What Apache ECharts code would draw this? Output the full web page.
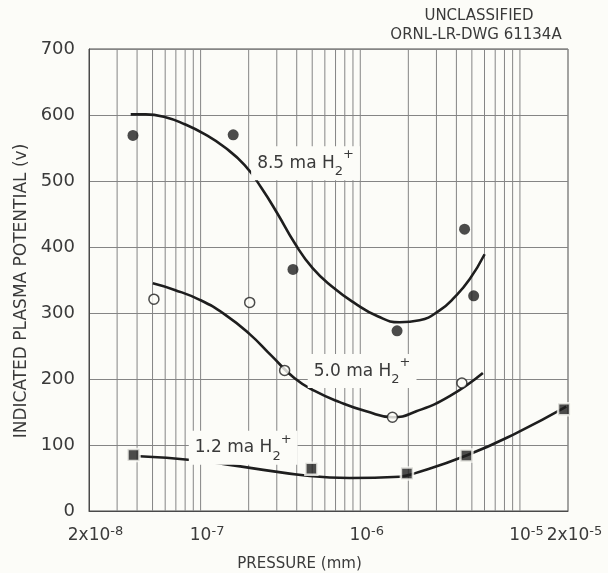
<!DOCTYPE html>
<html>
<head>
<meta charset="utf-8">
<script src="https://cdn.jsdelivr.net/npm/echarts@6/dist/echarts.min.js"></script>
<style>
  html, body { margin: 0; padding: 0; background: #fcfcf8; }
  #chart { width: 608px; height: 573px; }
</style>
</head>
<body>
<div id="chart"></div>
<script>
// Measured plasma potential (V) against pressure (mm) for three ion currents
const pressure85 = [3.77e-8, 1.6e-7, 3.79e-7, 1.7e-6, 4.5e-6, 5.13e-6];
const potential85 = [569, 570, 366, 273, 427, 326];
const pressure50 = [5.1e-8, 2.03e-7, 3.36e-7, 1.59e-6, 4.33e-6];
const potential50 = [321, 316, 213, 142, 194];
const pressure12 = [3.8e-8, 4.94e-7, 1.96e-6, 4.62e-6, 1.89e-5];
const potential12 = [85, 64, 57, 84, 154];

// Fitted curves through each set of measurements
const curve85P = [3.65e-8, 4.53e-8, 5.96e-8, 7.95e-8, 1.06e-7, 1.415e-7, 1.888e-7, 2.412e-7, 3.04e-7, 3.88e-7,
  5.03e-7, 6.74e-7, 9.22e-7, 1.285e-6, 1.764e-6, 2.353e-6, 3.14e-6, 3.9e-6, 4.84e-6, 6.01e-6];
const curve85V = [601, 601, 597, 586, 571, 551, 524, 489, 450, 406,
  368, 339, 315, 295, 286, 289, 304, 324, 351, 389];
const curve50P = [5.02e-8, 6.88e-8, 9.87e-8, 1.415e-7, 2.03e-7, 2.786e-7, 3.88e-7, 5.18e-7, 7.43e-7,
  1.09e-6, 1.6e-6, 2.245e-6, 3.63e-6, 5.86e-6];
const curve50V = [345, 335, 320, 298, 268, 235, 201, 182, 165,
  151, 142, 151, 174, 209];
const curve12P = [4.13e-8, 9.04e-8, 2.09e-7, 4.83e-7, 8.58e-7, 1.76e-6, 2.19e-6, 4.62e-6, 9.49e-6, 1.95e-5];
const curve12V = [83, 77, 65, 53, 50, 52, 57, 84, 118, 158];

// Log-paper rulings between the axis limits
const gridPressures = [3e-8, 4e-8, 5e-8, 6e-8, 7e-8, 8e-8, 9e-8,
  1e-7, 2e-7, 3e-7, 4e-7, 5e-7, 6e-7, 7e-7, 8e-7, 9e-7,
  1e-6, 2e-6, 3e-6, 4e-6, 5e-6, 6e-6, 7e-6, 8e-6, 9e-6, 1e-5];

const xMin = 2e-8, xMax = 2e-5;
const yMin = 0, yMax = 700, yStep = 100;

const BG = '#fcfcf8';
const INK = '#1e1e1e';
const TEXT = '#3a3a3a';
const RULE = '#858585';
const FONT = 'DejaVu Sans';

const pairs = (xs, ys) => xs.map((x, i) => [x, ys[i]]);

// "10^-7" / "2x10^-8" style pressure label; the leading pad keeps the
// mantissa part centred on its tick while the exponent hangs to the right
function pressureText(v) {
  const e = Math.floor(Math.log10(v) + 1e-9);
  const m = Math.round(v / Math.pow(10, e));
  const base = m === 1 ? '10' : m + 'x10';
  return '{p| }{b|' + base + '}{s|' + e + '}';
}
const pressureRich = {
  p: { width: 13, fontSize: 12 },
  b: { fontFamily: FONT, fontSize: 17, color: TEXT, lineHeight: 22, verticalAlign: 'middle' },
  s: { fontFamily: FONT, fontSize: 13, color: TEXT, lineHeight: 8, verticalAlign: 'top' }
};

function curveLabel(text, at) {
  return {
    coord: at,
    symbol: 'circle',
    symbolSize: 0,
    label: {
      show: true,
      position: 'inside',
      formatter: '{m|' + text + '}{sub|2}{sup|+}',
      backgroundColor: BG,
      padding: [2, 6],
      rich: {
        m: { fontFamily: FONT, fontSize: 17, color: TEXT, lineHeight: 30, verticalAlign: 'middle' },
        sub: { fontFamily: FONT, fontSize: 13, color: TEXT, lineHeight: 16, verticalAlign: 'bottom' },
        sup: { fontFamily: FONT, fontSize: 13, color: TEXT, lineHeight: 10, verticalAlign: 'top' }
      }
    }
  };
}

// label for the right-hand axis limit, set just below the axis line
const maxPressureLabel = {
  coord: [xMax, yMin],
  symbol: 'circle',
  symbolSize: 0,
  label: {
    show: true,
    position: 'bottom',
    distance: 14,
    formatter: pressureText(xMax),
    rich: pressureRich
  }
};

// one thin vertical ruling per grid pressure, drawn through the axes
const rulingSeries = gridPressures.map(p => ({
  type: 'line',
  data: [[p, yMin], [p, yMax]],
  showSymbol: false,
  silent: true,
  z: 1,
  lineStyle: { color: RULE, width: 1 }
}));

const curveStyle = { color: INK, width: 2.6 };

const chart = echarts.init(document.getElementById('chart'), null, { renderer: 'canvas' });

chart.setOption({
  animation: false,
  backgroundColor: BG,
  textStyle: { fontFamily: FONT },
  grid: {
    left: 89, right: 40, top: 49, bottom: 62,
    outerBoundsMode: 'none',
    containLabel: false,
    show: true, borderColor: '#4a4a4a', borderWidth: 1, backgroundColor: 'transparent'
  },
  graphic: [
    { type: 'text', x: 479, y: 16, style: { text: 'UNCLASSIFIED', font: '15px "DejaVu Sans"', fill: TEXT, align: 'center', verticalAlign: 'middle' } },
    { type: 'text', x: 476, y: 35, style: { text: 'ORNL-LR-DWG 61134A', font: '15px "DejaVu Sans"', fill: TEXT, align: 'center', verticalAlign: 'middle' } }
  ],
  xAxis: {
    type: 'log',
    logBase: 10,
    min: xMin,
    max: xMax,
    name: 'PRESSURE (mm)',
    nameLocation: 'middle',
    nameGap: 46,
    nameTextStyle: { fontFamily: FONT, fontSize: 15, color: TEXT, padding: [0, 58, 0, 0] },
    axisLine: { show: true, lineStyle: { color: '#4a4a4a', width: 1 } },
    axisTick: { show: false },
    splitLine: { show: false },
    minorTick: { show: false },
    minorSplitLine: { show: false },
    axisLabel: {
      showMinLabel: true,
      showMaxLabel: false,
      margin: 14,
      formatter: pressureText,
      rich: pressureRich
    }
  },
  yAxis: {
    type: 'value',
    min: yMin,
    max: yMax,
    interval: yStep,
    name: 'INDICATED PLASMA POTENTIAL (v)',
    nameLocation: 'middle',
    nameGap: 59,
    nameTextStyle: { fontFamily: FONT, fontSize: 17, color: TEXT, padding: [0, 22, 0, 0] },
    axisLine: { show: true, lineStyle: { color: '#4a4a4a', width: 1 } },
    axisTick: { show: false },
    splitLine: { show: true, lineStyle: { color: RULE, width: 1 } },
    axisLabel: { fontFamily: FONT, fontSize: 18, color: TEXT, margin: 14 }
  },
  series: rulingSeries.concat([
    {
      type: 'line', data: pairs(curve85P, curve85V), smooth: 0.5, showSymbol: false,
      lineStyle: curveStyle, silent: true, z: 3
    },
    {
      type: 'line', data: pairs(curve50P, curve50V), smooth: 0.5, showSymbol: false,
      lineStyle: curveStyle, silent: true, z: 3
    },
    {
      type: 'line', data: pairs(curve12P, curve12V), smooth: 0.5, showSymbol: false,
      lineStyle: curveStyle, silent: true, z: 3
    },
    {
      name: '8.5 ma', type: 'scatter', data: pairs(pressure85, potential85), z: 4,
      symbol: 'circle', symbolSize: 11, itemStyle: { color: INK },
      markPoint: { silent: true, data: [curveLabel('8.5 ma H', [4.54e-7, 527])] }
    },
    {
      name: '5.0 ma', type: 'scatter', data: pairs(pressure50, potential50), z: 4,
      symbol: 'circle', symbolSize: 10, itemStyle: { color: BG, borderColor: INK, borderWidth: 1.5 },
      markPoint: { silent: true, data: [curveLabel('5.0 ma H', [1.027e-6, 212])] }
    },
    {
      name: '1.2 ma', type: 'scatter', data: pairs(pressure12, potential12), z: 4,
      symbol: 'rect', symbolSize: 12, itemStyle: { color: INK, borderColor: BG, borderWidth: 2.5 },
      markPoint: { silent: true, data: [curveLabel('1.2 ma H', [1.848e-7, 96]), maxPressureLabel] }
    }
  ])
});
</script>
</body>
</html>
